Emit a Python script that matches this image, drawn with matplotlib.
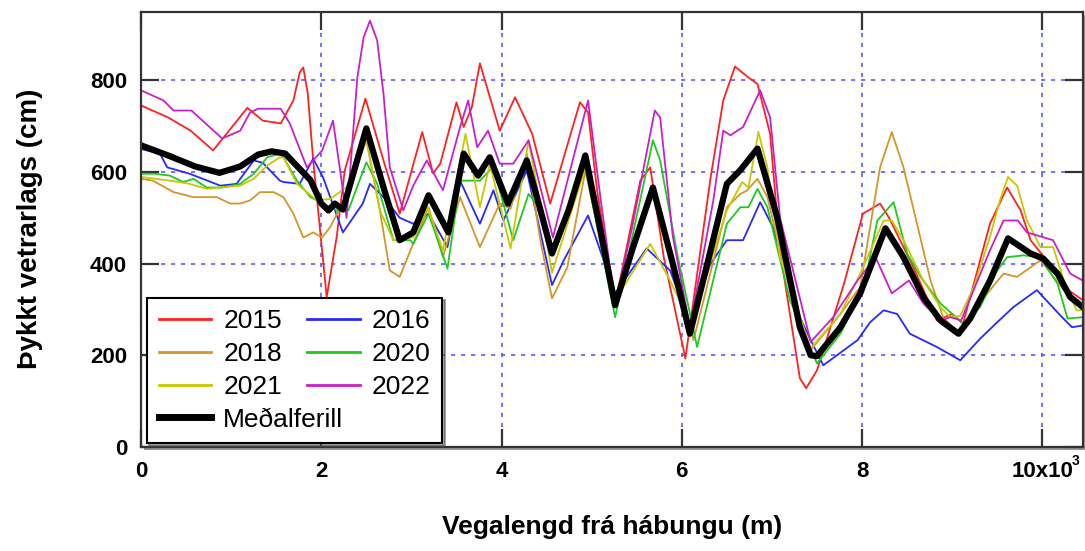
import matplotlib
matplotlib.use("Agg")
import matplotlib.pyplot as plt
from matplotlib.patches import Rectangle

# distance from summit (x 1000 m) and winter layer thickness (cm)
red_x = [0, 0.3, 0.55, 0.8, 1.18, 1.35, 1.55, 1.69, 1.76, 1.8, 1.85, 1.91, 2.06, 2.17, 2.26, 2.49, 2.69, 2.87,
         3.12, 3.24, 3.32, 3.5, 3.58, 3.67, 3.76, 3.98, 4.15, 4.34, 4.54, 4.87, 4.96, 5.06, 5.26, 5.54, 5.65,
         5.8, 6.04, 6.32, 6.46, 6.59, 6.74, 6.84, 6.98, 7.09, 7.31, 7.38, 7.5, 7.8, 8.01, 8.2, 8.3, 8.57, 8.83,
         9.0, 9.12, 9.24, 9.42, 9.61, 9.76, 9.87, 10.05, 10.24, 10.45]
red_y = [745, 719, 690, 647, 740, 712, 706, 756, 817, 828, 771, 625, 327, 457, 603, 760, 625, 509,
         687, 597, 618, 752, 698, 741, 837, 690, 763, 683, 531, 752, 730, 560, 312, 581, 610,
         414, 193, 588, 756, 830, 806, 792, 683, 429, 150, 128, 167, 356, 509, 531, 500, 392, 276,
         290, 269, 356, 487, 566, 516, 451, 407, 349, 320]

blue_x = [0, 0.21, 0.29, 0.54, 0.88, 1.06, 1.25, 1.35, 1.54, 1.58, 1.76, 1.91, 2.02, 2.24, 2.46, 2.54, 2.69,
          2.87, 3.02, 3.19, 3.4, 3.54, 3.76, 3.91, 4.02, 4.28, 4.56, 4.69, 4.96, 5.26, 5.61, 5.87, 6.09, 6.32,
          6.5, 6.68, 6.87, 7.01, 7.31, 7.43, 7.57, 7.95, 8.09, 8.24, 8.39, 8.53, 8.83, 9.09, 9.31, 9.5, 9.68,
          9.94, 10.2, 10.33, 10.45]
blue_y = [650, 640, 610, 596, 570, 574, 625, 620, 581, 578, 574, 629, 588, 468, 531, 574, 545,
          500, 487, 509, 436, 581, 487, 560, 494, 603, 353, 407, 505, 335, 433, 385, 269, 400,
          451, 451, 534, 480, 283, 233, 178, 233, 272, 298, 290, 247, 218, 189, 236, 272, 305,
          342, 287, 261, 265]

orange_x = [0, 0.13, 0.36, 0.58, 0.84, 0.99, 1.1, 1.21, 1.32, 1.47, 1.58, 1.69, 1.8, 1.91, 2.01, 2.1, 2.24,
            2.5, 2.65, 2.76, 2.87, 2.99, 3.19, 3.35, 3.54, 3.76, 3.98, 4.1, 4.28, 4.43, 4.56, 4.73, 4.93,
            5.26, 5.68, 5.9, 6.13, 6.5, 6.65, 6.72, 6.84, 6.95, 7.2, 7.43, 7.76, 7.98, 8.09, 8.2, 8.33,
            8.46, 8.61, 8.76, 8.9, 9.09, 9.24, 9.42, 9.57, 9.72, 9.87, 9.98, 10.24, 10.45]
orange_y = [585, 581, 556, 545, 545, 531, 531, 538, 556, 556, 545, 509, 457, 468, 457, 480, 534,
            669, 516, 385, 371, 429, 523, 414, 545, 436, 531, 520, 640, 451, 324, 392, 603,
            305, 560, 400, 233, 523, 552, 559, 585, 545, 340, 211, 290, 349, 480, 610, 687,
            610, 487, 363, 283, 243, 298, 342, 378, 371, 392, 407, 342, 305]

green_x = [0, 0.15, 0.32, 0.47, 0.58, 0.73, 0.91, 1.1, 1.25, 1.4, 1.54, 1.58, 1.73, 1.88, 2.02, 2.17, 2.3,
           2.5, 2.62, 2.8, 2.99, 3.02, 3.19, 3.4, 3.54, 3.76, 3.9, 3.98, 4.13, 4.3, 4.43, 4.56, 4.93, 5.26,
           5.68, 5.76, 5.95, 6.17, 6.5, 6.65, 6.74, 6.84, 6.95, 7.2, 7.5, 7.76, 8.02, 8.17, 8.35, 8.5, 8.65,
           8.87, 9.12, 9.31, 9.5, 9.61, 9.79, 9.98, 10.17, 10.28, 10.45]
green_y = [596, 596, 592, 578, 585, 566, 566, 574, 596, 632, 640, 632, 581, 545, 531, 516, 516,
           621, 574, 451, 451, 443, 509, 389, 581, 581, 610, 560, 451, 552, 520, 429, 610, 283,
           669, 625, 420, 218, 487, 523, 523, 563, 523, 320, 182, 247, 349, 494, 534, 422, 371,
           313, 269, 305, 385, 414, 418, 414, 356, 280, 283]

yellow_x = [0, 0.32, 0.54, 0.73, 0.91, 1.1, 1.25, 1.4, 1.54, 1.58, 1.73, 1.95, 2.1, 2.28, 2.5, 2.65, 2.8,
            2.99, 3.02, 3.18, 3.35, 3.6, 3.76, 3.87, 4.1, 4.3, 4.4, 4.56, 4.93, 5.26, 5.65, 5.87, 6.1, 6.5,
            6.67, 6.74, 6.85, 6.95, 7.09, 7.43, 7.76, 7.98, 8.24, 8.33, 8.46, 8.68, 8.87, 8.98, 9.09, 9.24,
            9.42, 9.53, 9.62, 9.72, 9.83, 9.98, 10.12, 10.24, 10.38, 10.45]
yellow_y = [589, 581, 574, 563, 567, 570, 585, 614, 632, 632, 574, 538, 541, 567, 673, 516, 451,
            457, 457, 523, 429, 683, 523, 618, 433, 669, 560, 380, 610, 320, 443, 363, 269, 516,
            578, 566, 687, 610, 414, 215, 290, 378, 494, 494, 451, 363, 305, 283, 286, 349,
            458, 538, 589, 570, 494, 436, 436, 363, 298, 298]

magenta_x = [0, 0.25, 0.36, 0.56, 0.62, 0.9, 1.1, 1.21, 1.3, 1.55, 1.65, 1.84, 2.01, 2.13, 2.23, 2.28, 2.4,
             2.47, 2.54, 2.62, 2.69, 2.76, 2.91, 3.02, 3.17, 3.35, 3.54, 3.63, 3.73, 3.85, 3.98, 4.13, 4.3,
             4.57, 4.96, 5.1, 5.26, 5.45, 5.7, 5.76, 5.9, 6.09, 6.35, 6.46, 6.54, 6.68, 6.87, 6.98, 7.09,
             7.43, 7.68, 7.95, 8.15, 8.33, 8.52, 8.68, 8.87, 8.98, 9.1, 9.42, 9.57, 9.73, 9.83, 10.12,
             10.31, 10.45]
magenta_y = [778, 756, 734, 734, 723, 673, 690, 730, 738, 738, 706, 610, 647, 712, 574, 500, 806,
             894, 930, 887, 771, 610, 516, 570, 625, 560, 698, 756, 654, 690, 618, 618, 669,
             457, 756, 540, 310, 480, 734, 719, 460, 261, 538, 690, 680, 698, 778, 719, 500,
             229, 283, 363, 414, 335, 363, 313, 276, 283, 276, 429, 494, 494, 468, 451,
             378, 363]

mean_x = [0, 0.3, 0.6, 0.87, 1.1, 1.3, 1.45, 1.6, 1.88, 2.0, 2.08, 2.15, 2.24, 2.5, 2.7, 2.87, 3.02, 3.19,
          3.41, 3.58, 3.74, 3.87, 4.07, 4.28, 4.4, 4.56, 4.75, 4.93, 5.1, 5.26, 5.45, 5.68, 5.9, 6.09, 6.32,
          6.5, 6.65, 6.84, 7.06, 7.31, 7.43, 7.5, 7.76, 7.98, 8.26, 8.46, 8.68, 8.87, 9.07, 9.2, 9.42, 9.62,
          9.87, 10.01, 10.17, 10.31, 10.45]
mean_y = [658, 636, 612, 598, 612, 638, 645, 640, 582, 531, 516, 531, 518, 695, 560, 451, 468, 549,
          468, 640, 592, 632, 531, 625, 540, 422, 520, 636, 470, 309, 430, 566, 400, 247, 429,
          574, 604, 651, 500, 261, 200, 198, 261, 335, 477, 414, 327, 276, 247, 280, 363, 455,
          422, 411, 378, 327, 305]

x_ticks = [0, 2, 4, 6, 8, 10]
x_ticklabels = ["0", "2", "4", "6", "8", "10x10"]
y_ticks = [0, 200, 400, 600, 800]

plt.rcParams["font.family"] = ["Liberation Sans", "DejaVu Sans"]

fig = plt.figure(figsize=(10.85, 5.51), dpi=100)
ax = fig.add_axes([0.13, 0.189, 0.868, 0.79])

# grey drop shadow behind the axes box
fig.patches.append(Rectangle((0.133, 0.183), 0.868, 0.79, transform=fig.transFigure,
                             facecolor="#999999", edgecolor="none", zorder=-1))
ax.set_facecolor("white")

ax.plot(red_x, red_y, color="#FF2020", lw=1.3, label="2015")
ax.plot(blue_x, blue_y, color="#2828FF", lw=1.3, label="2016")
ax.plot(orange_x, orange_y, color="#D4962A", lw=1.3, label="2018")
ax.plot(green_x, green_y, color="#20C820", lw=1.3, label="2020")
ax.plot(yellow_x, yellow_y, color="#C8C800", lw=1.3, label="2021")
ax.plot(magenta_x, magenta_y, color="#C820C8", lw=1.3, label="2022")
ax.plot(mean_x, mean_y, color="black", lw=4.5, label="Meðalferill")

ax.set_xlim(0, 10.45)
ax.set_ylim(0, 950)
ax.set_xticks(x_ticks)
ax.set_xticklabels(x_ticklabels)
ax.set_yticks(y_ticks)
ax.tick_params(direction="in", length=13, width=1.6, color="#333333", top=True, right=True,
               labelsize=16, pad=10)
for lbl in ax.get_xticklabels() + ax.get_yticklabels():
    lbl.set_fontweight("bold")
# the x10^3 exponent next to the last tick label
fig.text(1072 / 1085, 1 - 461 / 551, "3", fontsize=10, fontweight="bold", ha="left", va="center")

ax.grid(True, color="#5a5aff", linestyle=(0, (2.5, 3.5)), lw=1.2)
ax.set_axisbelow(True)
for sp in ax.spines.values():
    sp.set_color("#333333")
    sp.set_linewidth(1.6)

ax.set_xlabel("Vegalengd frá hábungu (m)", fontsize=19, fontweight="bold", labelpad=24)
ax.set_ylabel("Þykkt vetrarlags (cm)", fontsize=20, fontweight="bold", labelpad=34)

# legend: two columns of years, mean curve label spills across both columns
h, l = ax.get_legend_handles_labels()
order = [0, 2, 4, 6, 1, 3, 5]
labels = [l[i] if l[i] != "Meðalferill" else "" for i in order]
leg = ax.legend([h[i] for i in order], labels, ncol=2, loc="lower left",
                bbox_to_anchor=(0.006, 0.008), frameon=True, fancybox=False,
                shadow=True, edgecolor="black", handlelength=2.0, handletextpad=0.45,
                columnspacing=0.95, labelspacing=0.33, borderpad=0.45, borderaxespad=0,
                prop={"size": 19})
leg.get_frame().set_linewidth(1.5)
for lh, lab in zip(leg.get_lines(), labels):
    lh.set_linewidth(5 if lab == "" else 2.0)

fig.canvas.draw()
texts = leg.get_texts()
p18 = texts[1].get_transform().transform(texts[1].get_position())
p21 = texts[2].get_transform().transform(texts[2].get_position())
px, py = p21[0], p21[1] - (p18[1] - p21[1])
fig.text(px / fig.bbox.width, py / fig.bbox.height, "Meðalferill", fontsize=19,
         ha=texts[2].get_ha(), va=texts[2].get_va(), zorder=10)

fig.savefig("out.png", dpi=100)
